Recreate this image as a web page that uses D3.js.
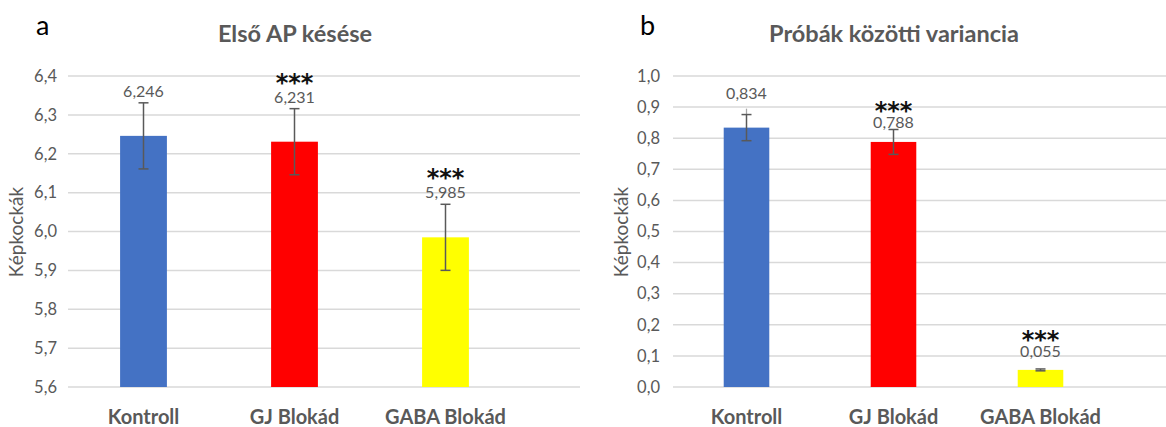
<!DOCTYPE html>
<html>
<head>
<meta charset="utf-8">
<script src="https://cdn.jsdelivr.net/npm/d3@7"></script>
<style>
  body { margin: 0; background: #fff; }
  svg { display: block; font-family: Lato, 'Open Sans', sans-serif; }
</style>
</head>
<body>
<svg id="chart" width="1166" height="427"></svg>
<script>
var categories = ['Kontroll', 'GJ Blokád', 'GABA Blokád'];
var colors = ['#4472C4', '#FF0000', '#FFFF00'];

// panel a: Első AP késése
var latencyValues = [6.246, 6.231, 5.985];
var latencyErr = [0.085, 0.085, 0.085];
var latencyStars = ['', '***', '***'];
var latencyTicks = [5.6, 5.7, 5.8, 5.9, 6.0, 6.1, 6.2, 6.3, 6.4];

// panel b: Próbák közötti variancia
var varianceValues = [0.834, 0.788, 0.055];
var varianceErr = [0.042, 0.040, 0.003];
var varianceExtra = [0.061, 0, 0];   // faint upper whisker on Kontroll
var varianceStars = ['', '***', '***'];
var varianceTicks = [0, 0.1, 0.2, 0.3, 0.4, 0.5, 0.6, 0.7, 0.8, 0.9, 1.0];

var svg = d3.select('#chart');
var fmt1 = function(v) { return d3.format('.1f')(v).replace('.', ','); };
var fmt3 = function(v) { return d3.format('.3f')(v).replace('.', ','); };

function drawPanel(opt) {
  var g = svg.append('g');
  var y = d3.scaleLinear().domain(opt.domain).range([387, 76]);
  var x = d3.scaleBand().domain(categories).range(opt.bandRange).paddingInner(0.69).paddingOuter(0.345);

  // gridlines
  g.selectAll('.grid')
    .data(opt.ticks)
    .enter().append('line')
      .attr('x1', opt.gridX[0]).attr('x2', opt.gridX[1])
      .attr('y1', function(d) { return y(d); })
      .attr('y2', function(d) { return y(d); })
      .style('stroke', '#D9D9D9')
      .style('stroke-width', 1.5);

  // y tick labels
  var axis = d3.axisLeft(y).tickValues(opt.ticks).tickFormat(fmt1).tickSize(0).tickPadding(0);
  var ax = g.append('g')
    .attr('transform', 'translate(' + opt.tickX + ',0)')
    .call(axis);
  ax.select('.domain').remove();
  ax.selectAll('text')
    .style('font-family', 'Lato, sans-serif')
    .style('font-size', '16.5px')
    .style('fill', '#595959');

  // bars
  g.selectAll('.bar')
    .data(opt.values)
    .enter().append('rect')
      .attr('x', function(d, i) { return x(categories[i]); })
      .attr('width', x.bandwidth())
      .attr('y', function(d) { return y(d); })
      .attr('height', function(d) { return y(opt.domain[0]) - y(d); })
      .style('fill', function(d, i) { return colors[i]; });

  // error bars and value labels
  opt.values.forEach(function(v, i) {
    var cx = x(categories[i]) + x.bandwidth() / 2;
    var lo = y(v - opt.err[i]), hi = y(v + opt.err[i]);
    if (opt.extra && opt.extra[i] > 0) {
      g.append('line')
        .attr('x1', cx).attr('x2', cx)
        .attr('y1', y(v + opt.extra[i])).attr('y2', hi)
        .style('stroke', '#A6A6A6').style('stroke-width', 1.25);
    }
    g.append('line')
      .attr('x1', cx).attr('x2', cx).attr('y1', lo).attr('y2', hi)
      .style('stroke', '#595959').style('stroke-width', 1.5);
    [lo, hi].forEach(function(yy) {
      g.append('line')
        .attr('x1', cx - 5).attr('x2', cx + 5).attr('y1', yy).attr('y2', yy)
        .style('stroke', '#595959').style('stroke-width', 1.5);
    });

    var top = y(v + Math.max(opt.err[i], opt.extra ? opt.extra[i] : 0));
    var base = top - opt.labelGap[i];
    g.append('text')
      .attr('x', cx).attr('y', base)
      .attr('text-anchor', 'middle')
      .style('font-size', '16px')
      .style('fill', '#595959')
      .text(fmt3(v));
    if (opt.stars[i]) {
      g.append('text')
        .attr('x', cx).attr('y', base - opt.starGap)
        .attr('text-anchor', 'middle')
        .style('font-family', "'DejaVu Sans', sans-serif")
        .style('font-size', '24px')
        .style('font-weight', 'bold')
        .style('fill', '#111')
        .text(opt.stars[i]);
    }
  });

  // category labels
  g.selectAll('.cat')
    .data(categories)
    .enter().append('text')
      .attr('x', function(d) { return x(d) + x.bandwidth() / 2; })
      .attr('y', 424)
      .attr('text-anchor', 'middle')
      .style('font-size', '20px')
      .style('font-weight', 'bold')
      .style('fill', '#595959')
      .text(function(d) { return d; });

  // y axis title
  g.append('text')
    .attr('transform', 'translate(' + opt.titleX + ',232) rotate(-90)')
    .attr('text-anchor', 'middle')
    .style('font-size', '19px')
    .style('fill', '#595959')
    .text('Képkockák');

  // chart title
  g.append('text')
    .attr('x', opt.titleCx).attr('y', 42)
    .attr('text-anchor', 'middle')
    .style('font-size', '23.5px')
    .style('font-weight', 'bold')
    .style('fill', '#595959')
    .text(opt.title);

  // panel letter
  g.append('text')
    .attr('x', opt.letterX).attr('y', 35)
    .style('font-size', '27px')
    .style('fill', '#000')
    .text(opt.letter);
}

drawPanel({
  domain: [5.6, 6.4], ticks: latencyTicks,
  values: latencyValues, err: latencyErr, stars: latencyStars,
  bandRange: [68, 521], gridX: [68, 580], tickX: 57,
  labelGap: [6, 6, 6], starGap: 12,
  titleX: 23, titleCx: 295, title: 'Első AP késése',
  letter: 'a', letterX: 36
});

drawPanel({
  domain: [0, 1.0], ticks: varianceTicks,
  values: varianceValues, err: varianceErr, extra: varianceExtra, stars: varianceStars,
  bandRange: [673, 1114], gridX: [673, 1166], tickX: 660,
  labelGap: [10, 1.5, 11.5], starGap: 9,
  titleX: 628, titleCx: 894, title: 'Próbák közötti variancia',
  letter: 'b', letterX: 640
});
</script>
</body>
</html>
